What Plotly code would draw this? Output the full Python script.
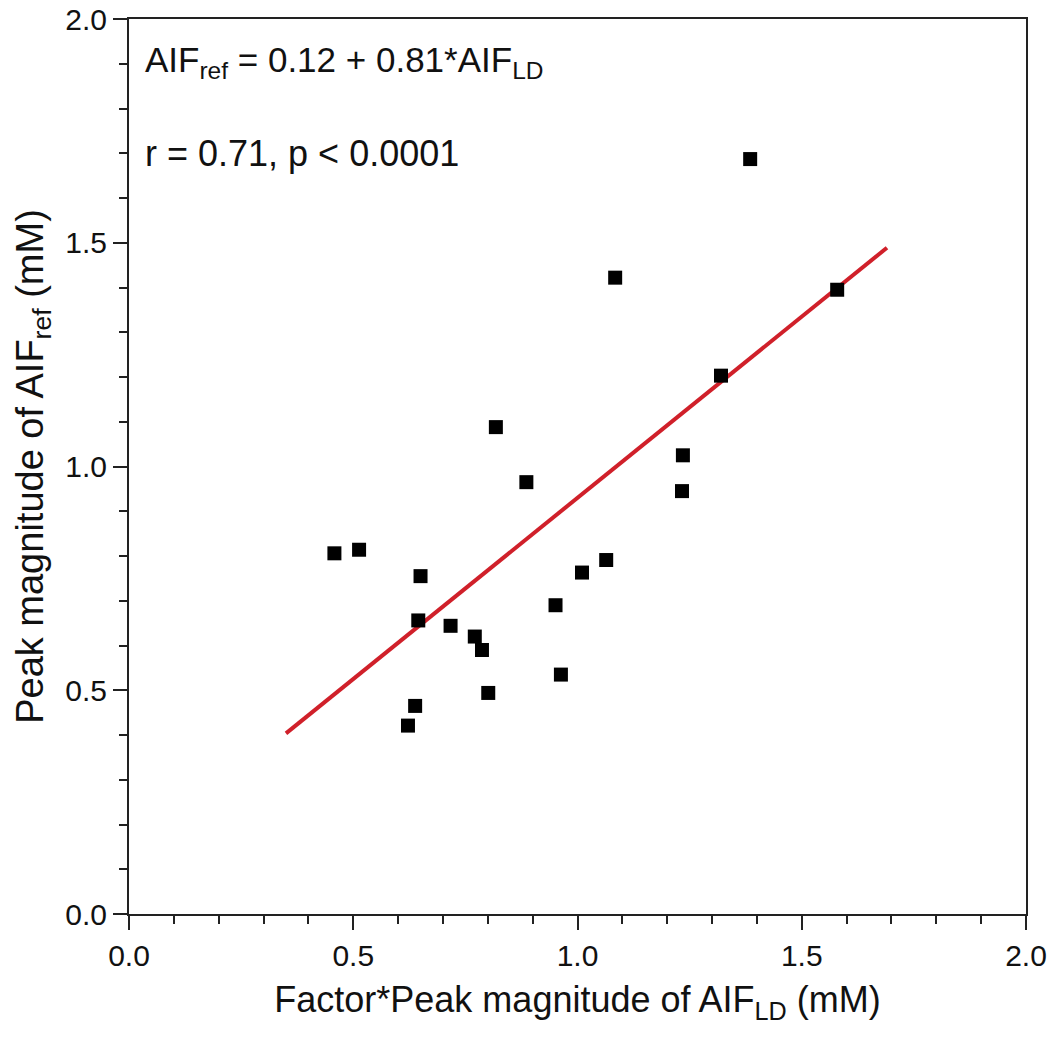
import numpy as np
import plotly.graph_objects as go

# measured points (x = factor * peak AIF_LD, y = peak AIF_ref), mM
aif_ld = [0.458, 0.513, 0.650, 0.645, 0.717, 0.771, 0.787, 0.818, 0.886, 0.951, 1.010,
          1.064, 0.963, 0.801, 0.638, 0.622, 1.235, 1.233, 1.084, 1.385, 1.579, 1.320]
aif_ref = [0.806, 0.814, 0.755, 0.656, 0.644, 0.620, 0.590, 1.088, 0.965, 0.690, 0.763,
           0.791, 0.535, 0.494, 0.465, 0.421, 1.025, 0.945, 1.422, 1.687, 1.395, 1.203]

# regression line: AIF_ref = 0.12 + 0.81 * AIF_LD
intercept = 0.12
slope = 0.81
fit_range = [0.35, 1.69]

tick_vals = [0.0, 0.5, 1.0, 1.5, 2.0]
tick_text = ["0.0", "0.5", "1.0", "1.5", "2.0"]

fit_x = np.array(fit_range)
fit_y = intercept + slope * fit_x

FONT = "Liberation Sans, Arial, sans-serif"

fig = go.Figure()
fig.add_trace(
    go.Scatter(x=fit_x, y=fit_y, mode='lines',
               line=dict(color='#d0202a', width=4),
               showlegend=False, hoverinfo='skip'))
fig.add_trace(
    go.Scatter(x=aif_ld, y=aif_ref, mode='markers',
               marker=dict(symbol='square', size=14, color='black',
                           line=dict(width=0)),
               showlegend=False))

axis_style = dict(range=[0, 2], tickvals=tick_vals, ticktext=tick_text,
                  ticks='outside', ticklen=14, tickwidth=2, tickcolor='#222',
                  showline=True, linewidth=2, linecolor='#222', mirror=True,
                  showgrid=False, zeroline=False, automargin=False,
                  tickfont=dict(family=FONT, size=30, color='#111'),
                  minor=dict(dtick=0.1, ticks='outside', ticklen=8,
                             tickwidth=2, tickcolor='#222', showgrid=False))

fig.update_xaxes(**axis_style,
                 title=dict(text="Factor*Peak magnitude of AIF<sub>LD</sub> (mM)",
                            font=dict(family=FONT, size=36, color='#111'),
                            standoff=16))
fig.update_yaxes(**axis_style,
                 title=dict(text="Peak magnitude of AIF<sub>ref</sub> (mM)",
                            font=dict(family=FONT, size=38, color='#111'),
                            standoff=10))

fig.add_annotation(x=0.031, y=1.905, xref='x', yref='y', xanchor='left', yanchor='middle',
                   text="AIF<sub>ref</sub> = 0.12 + 0.81*AIF<sub>LD</sub>",
                   showarrow=False, font=dict(family=FONT, size=35, color='#111'))
fig.add_annotation(x=0.031, y=1.70, xref='x', yref='y', xanchor='left', yanchor='middle',
                   text="r = 0.71, p < 0.0001",
                   showarrow=False, font=dict(family=FONT, size=36, color='#111'))

fig.update_layout(width=1050, height=1040,
                  paper_bgcolor='white', plot_bgcolor='white',
                  margin=dict(l=129, r=24, t=19, b=126))

# drop the default page margin so the figure sits at the window's corner
fig.write_html("out.html", config={'displayModeBar': False},
               post_script="document.body.style.margin='0';")
